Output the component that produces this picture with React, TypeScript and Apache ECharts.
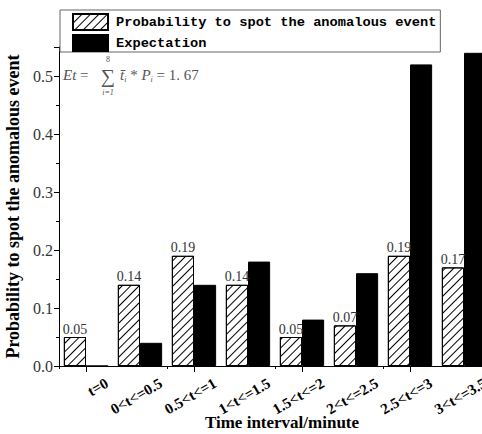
import React, { useEffect, useRef } from "react";
import * as echarts from "echarts";

const categories = ["t=0", "0<t<=0.5", "0.5<t<=1", "1<t<=1.5", "1.5<t<=2", "2<t<=2.5", "2.5<t<=3", "3<t<=3.5"];
const probability = [0.05, 0.14, 0.19, 0.14, 0.05, 0.07, 0.19, 0.17];
const expectation = [0, 0.04, 0.14, 0.18, 0.08, 0.16, 0.52, 0.54];
const seriesNames = ["Probability to spot the anomalous event", "Expectation"];

const SERIF = "'Liberation Serif', 'Times New Roman', serif";
const MONO = "'Liberation Mono', 'DejaVu Sans Mono', monospace";

export default function App() {
  const ref = useRef<HTMLDivElement>(null);
  useEffect(() => {
    if (!ref.current) return;
    const chart = echarts.init(ref.current, undefined, { renderer: "svg" });
    const gray = "#555";
    chart.setOption({
      animation: false,
      backgroundColor: "#fff",
      grid: [
        { left: 59, right: -9, top: 47, bottom: 68, outerBoundsMode: "none", containLabel: false },
        { left: 80, right: -30, top: 47, bottom: 68, outerBoundsMode: "none", containLabel: false },
      ],
      legend: {
        orient: "vertical",
        left: 60,
        top: 10,
        padding: [3, 4, 0, 12],
        itemGap: 3,
        itemWidth: 35,
        itemHeight: 16,
        borderColor: "#666",
        borderWidth: 1,
        backgroundColor: "#fff",
        icon: "rect",
        data: seriesNames,
        textStyle: { fontFamily: MONO, fontWeight: "bold", fontSize: 13.7, color: "#000", padding: [0, 0, 0, 3] },
      },
      xAxis: [
        {
          type: "category",
          gridIndex: 0,
          data: categories,
          axisLine: { lineStyle: { color: "#000", width: 1 } },
          axisTick: { show: true, alignWithLabel: true, length: 6, lineStyle: { color: "#000" } },
          axisLabel: { show: false },
          name: "Time interval/minute",
          nameLocation: "middle",
          nameGap: 48,
          nameTextStyle: { fontFamily: SERIF, fontWeight: "bold", fontSize: 17, color: "#000", padding: [0, 0, 0, 14] },
        },
        {
          type: "category",
          gridIndex: 0,
          data: categories,
          position: "bottom",
          axisLine: { show: false },
          axisTick: { show: true, length: 3, lineStyle: { color: "#000" } },
          axisLabel: { show: false },
        },
        {
          type: "category",
          gridIndex: 1,
          data: categories,
          axisLine: { show: false },
          axisTick: { show: false },
          axisLabel: {
            rotate: 30,
            margin: 16,
            fontFamily: SERIF,
            fontWeight: "bold",
            fontSize: 15,
            color: "#000",
            interval: 0,
          },
        },
      ],
      yAxis: [
        {
          type: "value",
          gridIndex: 0,
          min: 0,
          max: 0.55,
          interval: 0.1,
          splitLine: { show: false },
          axisLine: { show: true, lineStyle: { color: "#000" } },
          axisTick: { show: true, length: 5, lineStyle: { color: "#000" } },
          minorTick: { show: true, splitNumber: 2, length: 3, lineStyle: { color: "#000" } },
          axisLabel: {
            showMaxLabel: false,
            fontFamily: SERIF,
            fontSize: 16,
            color: "#333",
            margin: 6,
            formatter: (v: number) => v.toFixed(1),
          },
          name: "Probability to spot the anomalous event",
          nameLocation: "middle",
          nameGap: 34,
          nameTextStyle: { fontFamily: SERIF, fontWeight: "bold", fontSize: 18, color: "#000" },
        },
        { type: "value", gridIndex: 1, show: false, min: 0, max: 0.55 },
      ],
      graphic: [
        {
          type: "text",
          left: 63,
          top: 67,
          style: {
            text: "{it|Et} = ",
            fill: gray,
            font: `15px ${SERIF}`,
            rich: { it: { fontStyle: "italic", fontFamily: SERIF, fontSize: 15, fill: gray } },
          },
        },
        {
          type: "text",
          left: 100,
          top: 55,
          style: {
            text: "{s|8}\n{S|\u2211}\n{si|i=1}",
            fill: gray,
            align: "center",
            width: 16,
            rich: {
              s: { fontFamily: SERIF, fontSize: 8, lineHeight: 9, fill: gray, align: "center", width: 16 },
              S: { fontFamily: SERIF, fontSize: 20, lineHeight: 24, fill: gray, align: "center", width: 16 },
              si: { fontFamily: SERIF, fontStyle: "italic", fontSize: 8, lineHeight: 9, fill: gray, align: "center", width: 16 },
            },
          },
        },
        {
          type: "text",
          left: 120,
          top: 67,
          style: {
            text: "{it|t\u0304}{sub|i} * {it|P}{sub|i} = 1. 67",
            fill: gray,
            font: `15px ${SERIF}`,
            rich: {
              it: { fontStyle: "italic", fontFamily: SERIF, fontSize: 15, fill: gray, lineHeight: 18 },
              sub: { fontStyle: "italic", fontFamily: SERIF, fontSize: 8, fill: gray, padding: [8, 0, 0, 0], lineHeight: 18 },
            },
          },
        },
      ],
      series: [
        {
          name: seriesNames[0],
          type: "bar",
          xAxisIndex: 0,
          yAxisIndex: 0,
          data: probability,
          barGap: "0%",
          barCategoryGap: "18%",
          itemStyle: {
            color: "#fff",
            borderColor: "#000",
            borderWidth: 1,
            decal: {
              symbol: "rect",
              symbolSize: 1,
              color: "#000",
              backgroundColor: "#fff",
              dashArrayX: [1, 0],
              dashArrayY: [1, 5],
              rotation: -Math.PI / 4,
            },
          },
          label: {
            show: true,
            position: "top",
            distance: 1,
            fontFamily: SERIF,
            fontSize: 14,
            color: "#333",
            formatter: (p: any) => p.value.toFixed(2),
          },
        },
        {
          name: seriesNames[1],
          type: "bar",
          xAxisIndex: 0,
          yAxisIndex: 0,
          data: expectation,
          barGap: "0%",
          barCategoryGap: "18%",
          itemStyle: { color: "#000", borderColor: "#000", borderWidth: 1 },
        },
      ],
    });
    return () => chart.dispose();
  }, []);
  return <div ref={ref} style={{ position: "fixed", left: 0, top: 0, width: 482, height: 434 }} />;
}
